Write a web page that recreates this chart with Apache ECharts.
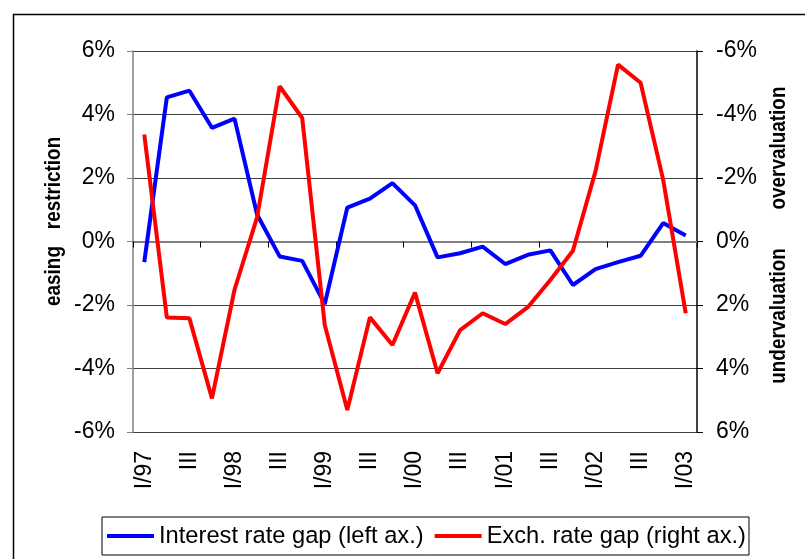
<!DOCTYPE html>
<html>
<head>
<meta charset="utf-8">
<script src="https://cdn.jsdelivr.net/npm/echarts@6/dist/echarts.min.js"></script>
<style>
  html, body { margin: 0; padding: 0; background: #fff; }
  #chart { width: 805px; height: 559px; }
</style>
</head>
<body>
<div id="chart"></div>
<script>
// quarters I/97 .. I/03
const quarters = [
  '1997Q1', '1997Q2', '1997Q3', '1997Q4',
  '1998Q1', '1998Q2', '1998Q3', '1998Q4',
  '1999Q1', '1999Q2', '1999Q3', '1999Q4',
  '2000Q1', '2000Q2', '2000Q3', '2000Q4',
  '2001Q1', '2001Q2', '2001Q3', '2001Q4',
  '2002Q1', '2002Q2', '2002Q3', '2002Q4',
  '2003Q1'
]
// labels shown under the axis (every second quarter)
const tickLabels = [
  'I/97', '', 'III', '', 'I/98', '', 'III', '', 'I/99', '', 'III', '',
  'I/00', '', 'III', '', 'I/01', '', 'III', '', 'I/02', '', 'III', '', 'I/03'
]

// Interest rate gap, % (left axis)
const interestGap = [
  -0.65, 4.54, 4.75, 3.58, 3.87, 0.85, -0.47, -0.61, -1.97, 1.07, 1.35, 1.84,
  1.14, -0.5, -0.37, -0.16, -0.71, -0.42, -0.28, -1.37, -0.87, -0.65, -0.45, 0.58, 0.19
]
// Exchange rate gap, % (right axis, inverted)
const exchGap = [
  -3.37, 2.39, 2.42, 4.94, 1.52, -0.76, -4.89, -3.89, 2.63, 5.31, 2.39, 3.26,
  1.61, 4.15, 2.79, 2.26, 2.6, 2.07, 1.21, 0.29, -2.21, -5.57, -5.0, -1.95, 2.26
]

const font = 'Liberation Sans, Arial, sans-serif'

// rotated bold axis caption, squeezed a bit along the text direction
function caption (text, x, y) {
  return {
    type: 'text',
    x: x,
    y: y,
    rotation: Math.PI / 2,
    scaleX: 0.84,
    style: { text: text, font: 'bold 22.5px ' + font, fill: '#000', align: 'center', verticalAlign: 'middle' }
  }
}

let myChart = echarts.init(document.getElementById('chart'))

let option = {
  animation: false,
  backgroundColor: '#fff',
  grid: { left: 133, right: 108, top: 51, bottom: 127, containLabel: false },
  legend: {
    left: 102,
    top: 517,
    padding: [7, 3, 7, 5],
    itemGap: 11,
    itemWidth: 47,
    itemHeight: 4,
    icon: 'rect',
    borderColor: '#000',
    borderWidth: 1,
    textStyle: { fontFamily: font, fontSize: 23.7, color: '#000' },
    data: ['Interest rate gap (left ax.)', 'Exch. rate gap (right ax.)']
  },
  xAxis: [
    {
      // labels at the bottom
      type: 'category',
      data: quarters,
      position: 'bottom',
      boundaryGap: true,
      axisLine: { show: false, onZero: false },
      axisTick: { show: false },
      axisLabel: {
        interval: 0,
        rotate: 90,
        margin: 19,
        fontFamily: font,
        fontSize: 23,
        color: '#000',
        formatter: (v, i) => tickLabels[i]
      },
      splitLine: { show: false }
    },
    {
      // line through zero with ticks
      type: 'category',
      data: quarters,
      position: 'bottom',
      boundaryGap: true,
      axisLine: { show: true, onZero: true, onZeroAxisIndex: 0, lineStyle: { color: '#808080', width: 2 } },
      axisTick: { show: true, length: 6, lineStyle: { color: '#000', width: 1 } },
      axisLabel: { show: false },
      splitLine: { show: false }
    }
  ],
  yAxis: [
    {
      type: 'value',
      position: 'left',
      min: -6,
      max: 6,
      interval: 2,
      axisLine: { show: true, lineStyle: { color: '#808080', width: 1.5 } },
      axisTick: { show: true, length: 6, lineStyle: { color: '#808080' } },
      axisLabel: { formatter: '{value}%', margin: 18, fontFamily: font, fontSize: 23, color: '#000' },
      splitLine: { show: true, lineStyle: { color: '#404040', width: 1 } }
    },
    {
      type: 'value',
      position: 'right',
      inverse: true,
      min: -6,
      max: 6,
      interval: 2,
      axisLine: { show: true, lineStyle: { color: '#000', width: 1.5 } },
      axisTick: { show: true, length: 6, lineStyle: { color: '#000' } },
      axisLabel: { formatter: '{value}%', margin: 19, fontFamily: font, fontSize: 23, color: '#000' },
      splitLine: { show: false }
    }
  ],
  series: [
    {
      name: 'Interest rate gap (left ax.)',
      type: 'line',
      xAxisIndex: 0,
      yAxisIndex: 0,
      data: interestGap,
      symbol: 'none',
      color: '#0000ff',
      lineStyle: { color: '#0000ff', width: 4 },
      z: 3
    },
    {
      name: 'Exch. rate gap (right ax.)',
      type: 'line',
      xAxisIndex: 0,
      yAxisIndex: 1,
      data: exchGap,
      symbol: 'none',
      color: '#ff0000',
      lineStyle: { color: '#ff0000', width: 4 },
      z: 4
    }
  ],
  graphic: [
    // outer frame (only left and top edges inside the picture)
    {
      type: 'rect',
      left: 11,
      top: 12,
      shape: { width: 900, height: 700 },
      style: { fill: null, stroke: '#000', lineWidth: 1.5 },
      silent: true
    },
    caption('restriction', 54, 183),
    caption('easing', 54, 276),
    caption('overvaluation', 779, 148),
    caption('undervaluation', 779, 316)
  ]
}

myChart.setOption(option)
</script>
</body>
</html>
